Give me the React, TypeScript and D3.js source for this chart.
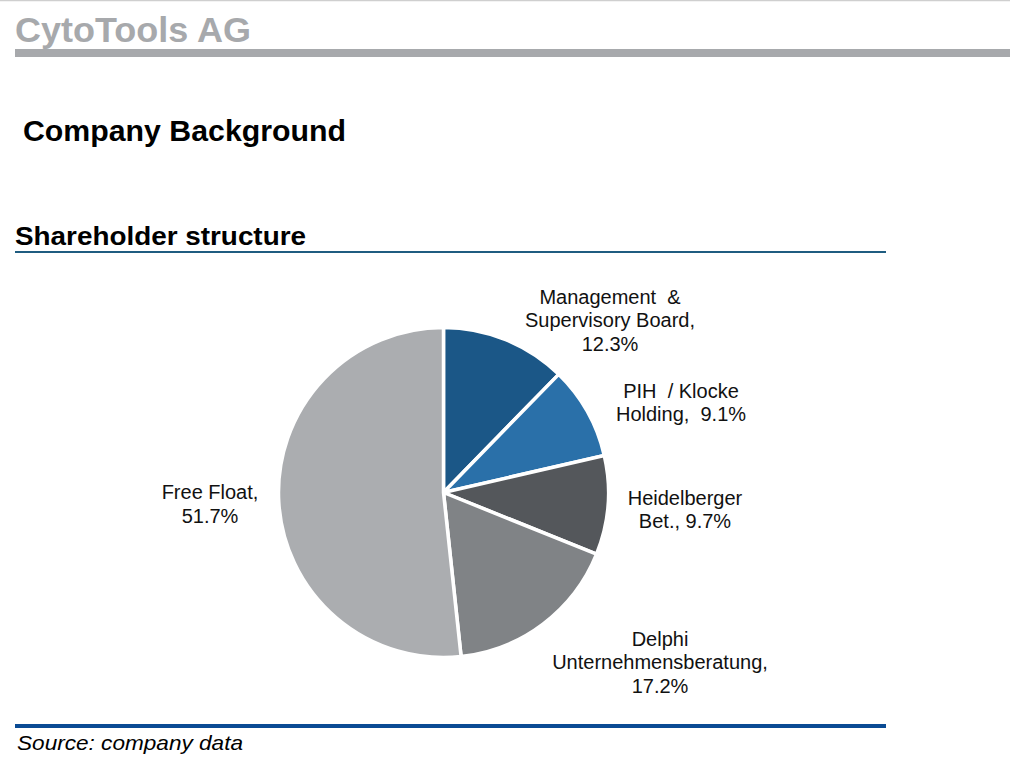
import { useEffect, useRef } from 'react'
import * as d3 from 'd3'

// Shareholder structure (in %), clockwise from 12 o'clock
const holders = ['Management & Supervisory Board', 'PIH / Klocke Holding', 'Heidelberger Bet.', 'Delphi Unternehmensberatung', 'Free Float']
const shares = [12.3, 9.1, 9.7, 17.2, 51.7]
const sliceColors = ['#1b5787', '#2a70a9', '#54575b', '#808386', '#abadb0']

// label text lines as printed on the chart
const labelLines = [
  ['Management  &', 'Supervisory Board,', '12.3%'],
  ['PIH  / Klocke', 'Holding,  9.1%'],
  ['Heidelberger', 'Bet., 9.7%'],
  ['Delphi', 'Unternehmensberatung,', '17.2%'],
  ['Free Float,', '51.7%'],
]

interface Slice {
  name: string
  value: number
  color: string
  lines: string[]
}

const slices: Slice[] = holders.map((name, i) => ({
  name,
  value: shares[i],
  color: sliceColors[i],
  lines: labelLines[i],
}))

export default function App() {
  const svgRef = useRef<SVGSVGElement>(null)

  useEffect(() => {
    if (!svgRef.current) return
    const svg = d3.select(svgRef.current)
    svg.selectAll('*').remove()

    const width = 1010
    const font = 'Arial, "Liberation Sans", sans-serif'

    // page header
    svg.append('line')
      .attr('x1', 0).attr('x2', width).attr('y1', 0.5).attr('y2', 0.5)
      .attr('stroke', '#cfcfcf').attr('stroke-width', 1.5)

    svg.append('text')
      .attr('x', 15).attr('y', 42)
      .attr('font-family', font).attr('font-weight', 700).attr('font-size', 35)
      .attr('fill', '#a7a9ac')
      .attr('textLength', 236).attr('lengthAdjust', 'spacingAndGlyphs')
      .text('CytoTools AG')

    svg.append('rect')
      .attr('x', 15).attr('y', 49).attr('width', width - 15).attr('height', 8)
      .attr('fill', '#a7a9ac')

    svg.append('text')
      .attr('x', 23).attr('y', 141)
      .attr('font-family', font).attr('font-weight', 700).attr('font-size', 29)
      .attr('fill', '#000')
      .attr('textLength', 323).attr('lengthAdjust', 'spacingAndGlyphs')
      .text('Company Background')

    svg.append('text')
      .attr('x', 15).attr('y', 245)
      .attr('font-family', font).attr('font-weight', 700).attr('font-size', 26)
      .attr('fill', '#000')
      .attr('textLength', 291).attr('lengthAdjust', 'spacingAndGlyphs')
      .text('Shareholder structure')

    svg.append('rect')
      .attr('x', 15).attr('y', 251).attr('width', 871).attr('height', 2)
      .attr('fill', '#1f5c80')

    // pie
    const cx = 443.5
    const cy = 492.5
    const radius = 165

    const pie = d3.pie<Slice>().sort(null).value((d) => d.value)
    const arc = d3.arc<d3.PieArcDatum<Slice>>().innerRadius(0).outerRadius(radius)
    const arcs = pie(slices)

    const g = svg.append('g').attr('transform', `translate(${cx},${cy})`)

    g.selectAll('path')
      .data(arcs)
      .enter()
      .append('path')
      .attr('d', arc)
      .attr('fill', (d) => d.data.color)
      .attr('stroke', '#fff')
      .attr('stroke-width', 3.5)
      .attr('stroke-linejoin', 'round')

    // label anchors, relative to pie centre (Excel "best fit" placement)
    const labelAnchor: [number, number][] = [
      [166.5, -172.5],
      [237.5, -90],
      [241.5, 17],
      [216.5, 169.5],
      [-233.5, 11.5],
    ]
    const lineH = 23.5

    arcs.forEach((d, i) => {
      const [lx, ly] = labelAnchor[i]
      const lines = d.data.lines
      const t = g.append('text')
        .attr('text-anchor', 'middle')
        .attr('font-family', font)
        .attr('font-size', 20)
        .attr('fill', '#111')
      lines.forEach((ln, k) => {
        t.append('tspan')
          .attr('x', lx)
          .attr('y', ly + (k - (lines.length - 1) / 2) * lineH + 7)
          .style('white-space', 'pre')
          .text(ln)
      })
    })

    // footer
    svg.append('rect')
      .attr('x', 15).attr('y', 724).attr('width', 871).attr('height', 4)
      .attr('fill', '#0a4b94')

    svg.append('text')
      .attr('x', 17).attr('y', 750)
      .attr('font-family', font).attr('font-style', 'italic').attr('font-size', 21)
      .attr('fill', '#000')
      .attr('textLength', 226).attr('lengthAdjust', 'spacingAndGlyphs')
      .text('Source: company data')
  }, [])

  return (
    <div style={{ position: 'absolute', left: 0, top: 0, width: 1010, height: 772, background: '#fff' }}>
      <svg ref={svgRef} width={1010} height={772} style={{ display: 'block' }} />
    </div>
  )
}
